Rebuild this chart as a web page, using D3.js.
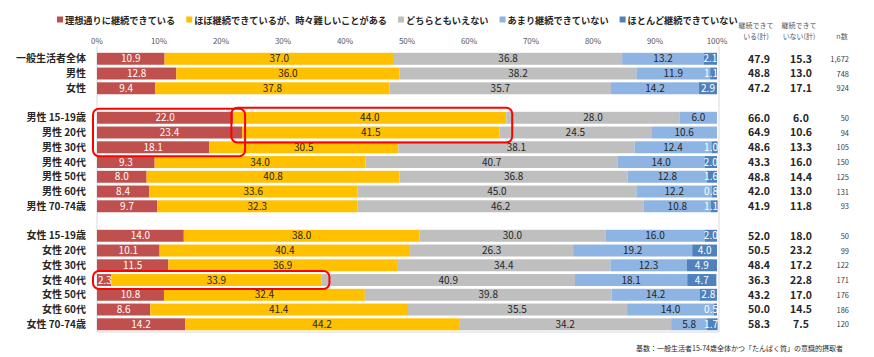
<!DOCTYPE html>
<html>
<head>
<meta charset="utf-8">
<script src="https://cdn.jsdelivr.net/npm/d3@7"></script>
<style>
  body { margin: 0; background: #fff; }
  text { font-family: "Noto Sans CJK JP", "Noto Sans", sans-serif; }
</style>
</head>
<body>
<div id="chart"></div>
<script>
// rows ("" = blank spacer row)
var categories = ["一般生活者全体", "男性", "女性", "",
    "男性 15-19歳", "男性 20代", "男性 30代", "男性 40代", "男性 50代", "男性 60代", "男性 70-74歳", "",
    "女性 15-19歳", "女性 20代", "女性 30代", "女性 40代", "女性 50代", "女性 60代", "女性 70-74歳"];

var seriesNames = ["理想通りに継続できている", "ほぼ継続できているが、時々難しいことがある",
    "どちらともいえない", "あまり継続できていない", "ほとんど継続できていない"];

var ideal    = [10.9, 12.8, 9.4, null, 22.0, 23.4, 18.1, 9.3, 8.0, 8.4, 9.7, null, 14.0, 10.1, 11.5, 2.3, 10.8, 8.6, 14.2];
var mostly   = [37.0, 36.0, 37.8, null, 44.0, 41.5, 30.5, 34.0, 40.8, 33.6, 32.3, null, 38.0, 40.4, 36.9, 33.9, 32.4, 41.4, 44.2];
var neutral  = [36.8, 38.2, 35.7, null, 28.0, 24.5, 38.1, 40.7, 36.8, 45.0, 46.2, null, 30.0, 26.3, 34.4, 40.9, 39.8, 35.5, 34.2];
var rarely   = [13.2, 11.9, 14.2, null, 6.0, 10.6, 12.4, 14.0, 12.8, 12.2, 10.8, null, 16.0, 19.2, 12.3, 18.1, 14.2, 14.0, 5.8];
var hardly   = [2.1, 1.1, 2.9, null, 0, 0, 1.0, 2.0, 1.6, 0.8, 1.1, null, 2.0, 4.0, 4.9, 4.7, 2.8, 0.5, 1.7];

var contTotal    = ["47.9", "48.8", "47.2", "", "66.0", "64.9", "48.6", "43.3", "48.8", "42.0", "41.9", "", "52.0", "50.5", "48.4", "36.3", "43.2", "50.0", "58.3"];
var notContTotal = ["15.3", "13.0", "17.1", "", "6.0", "10.6", "13.3", "16.0", "14.4", "13.0", "11.8", "", "18.0", "23.2", "17.2", "22.8", "17.0", "14.5", "7.5"];
var nCount       = ["1,672", "748", "924", "", "50", "94", "105", "150", "125", "131", "93", "", "50", "99", "122", "171", "176", "186", "120"];

var tickValues = [0, 10, 20, 30, 40, 50, 60, 70, 80, 90, 100];

var colors = ["#C0504D", "#FFC000", "#BFBFBF", "#8DB4E2", "#4F81BD"];
var labelColors = ["#ffffff", "#262626", "#262626", "#262626", "#ffffff"];

function go() {
    var width = 874, height = 357;
    var svg = d3.select("#chart").append("svg")
        .attr("width", width)
        .attr("height", height);

    var x = d3.scaleLinear().domain([0, 100]).range([97, 717]);
    var y = d3.scaleBand().domain(d3.range(categories.length))
        .range([51.4, 51.4 + 19 * 14.75]).paddingInner(0.19).paddingOuter(0.095);

    // legend
    var lx = 57;
    seriesNames.forEach(function (name, i) {
        svg.append("rect").attr("x", lx).attr("y", 16.5).attr("width", 6).attr("height", 6).attr("fill", colors[i]);
        var t = svg.append("text").attr("x", lx + 8).attr("y", 23.5)
            .attr("font-size", 9.2).attr("font-weight", "bold").attr("fill", "#262626")
            .text(name);
        lx += 8 + t.node().getComputedTextLength() + 11;
    });

    // top ticks
    svg.selectAll(".tick").data(tickValues).enter().append("text")
        .attr("x", function (d) { return x(d); })
        .attr("y", 44)
        .attr("text-anchor", "middle")
        .attr("font-size", 8)
        .attr("fill", "#595959")
        .text(function (d) { return d + "%"; });

    // frame
    var yTop = 46, yBot = 332;
    svg.append("line").attr("x1", x(0)).attr("x2", x(0)).attr("y1", yTop).attr("y2", yBot).attr("stroke", "#D9D9D9");
    svg.append("line").attr("x1", x(100) + 2).attr("x2", x(100) + 2).attr("y1", yTop).attr("y2", yBot).attr("stroke", "#D9D9D9");
    svg.append("line").attr("x1", x(0)).attr("x2", x(100) + 2).attr("y1", yBot).attr("y2", yBot).attr("stroke", "#D9D9D9");

    var rows = [];
    categories.forEach(function (c, i) {
        if (c === "") return;
        var vals = [ideal[i], mostly[i], neutral[i], rarely[i], hardly[i]];
        var acc = 0;
        vals.forEach(function (v, k) {
            rows.push({ row: i, k: k, v: v, x0: acc, x1: acc + v });
            acc += v;
        });
    });

    svg.selectAll(".seg").data(rows).enter().append("rect")
        .attr("x", function (d) { return x(d.x0); })
        .attr("y", function (d) { return y(d.row); })
        .attr("width", function (d) { return Math.max(0, x(d.x1) - x(d.x0)); })
        .attr("height", y.bandwidth())
        .attr("fill", function (d) { return colors[d.k]; });

    var lbl = svg.selectAll(".lbl").data(rows.filter(function (d) { return d.v > 0; })).enter().append("text")
        .attr("y", function (d) { return y(d.row) + y.bandwidth() / 2 + 3.6; })
        .attr("text-anchor", "middle")
        .attr("font-size", 10)
        .attr("fill", function (d) { return labelColors[d.k]; })
        .text(function (d) { return d.v.toFixed(1); });
    lbl.each(function (d) {
        var tw = this.getComputedTextLength();
        var cx = (x(d.x0) + x(d.x1)) / 2;
        if (cx + tw / 2 > x(100) + 1) cx = x(100) + 1 - tw / 2;
        if (cx - tw / 2 < x(0) + 1) cx = x(0) + 1 + tw / 2;
        d3.select(this).attr("x", cx);
    });

    // row labels
    svg.selectAll(".cat").data(categories).enter().append("text")
        .attr("x", 86)
        .attr("y", function (d, i) { return y(i) + y.bandwidth() / 2 + 3.6; })
        .attr("text-anchor", "end")
        .attr("font-size", 10)
        .attr("font-weight", "bold")
        .attr("fill", "#262626")
        .text(function (d) { return d; });

    // right columns
    var headers = [["継続できて", "いる(計)", 756], ["継続できて", "いない(計)", 799], ["n数", "", 842]];
    headers.forEach(function (h) {
        var t = svg.append("text").attr("x", h[2]).attr("y", h[1] ? 28 : 38.5)
            .attr("text-anchor", "middle").attr("font-size", 7).attr("fill", "#595959");
        t.text(h[0]);
        if (h[1]) {
            svg.append("text").attr("x", h[2]).attr("y", 38.5)
                .attr("text-anchor", "middle").attr("font-size", 7).attr("fill", "#595959").text(h[1]);
        }
    });

    svg.selectAll(".c1").data(contTotal).enter().append("text")
        .attr("x", 759)
        .attr("y", function (d, i) { return y(i) + y.bandwidth() / 2 + 3.8; })
        .attr("text-anchor", "middle").attr("font-size", 10.5).attr("font-weight", "bold").attr("fill", "#262626")
        .text(function (d) { return d; });
    svg.selectAll(".c2").data(notContTotal).enter().append("text")
        .attr("x", 801)
        .attr("y", function (d, i) { return y(i) + y.bandwidth() / 2 + 3.8; })
        .attr("text-anchor", "middle").attr("font-size", 10.5).attr("font-weight", "bold").attr("fill", "#262626")
        .text(function (d) { return d; });
    svg.selectAll(".c3").data(nCount).enter().append("text")
        .attr("x", 849)
        .attr("y", function (d, i) { return y(i) + y.bandwidth() / 2 + 3.2; })
        .attr("text-anchor", "end").attr("font-size", 7.5).attr("fill", "#404040")
        .text(function (d) { return d; });

    // highlight boxes
    var i15 = categories.indexOf("男性 15-19歳"), i20 = categories.indexOf("男性 20代"),
        i30 = categories.indexOf("男性 30代"), iF40 = categories.indexOf("女性 40代");
    var boxes = [
        { x0: x(0) - 4, x1: x(ideal[i20]) + 3, y0: y(i15) - 3, y1: y(i30) + y.bandwidth() + 3 },
        { x0: x(ideal[i15]) - 2, x1: x(ideal[i15] + mostly[i15]) + 6, y0: y(i15) - 4, y1: y(i20) + y.bandwidth() + 4 },
        { x0: x(0) - 4, x1: x(ideal[iF40] + mostly[iF40]) + 8, y0: y(iF40) - 3, y1: y(iF40) + y.bandwidth() + 3 }
    ];
    svg.selectAll(".box").data(boxes).enter().append("rect")
        .attr("x", function (d) { return d.x0; })
        .attr("y", function (d) { return d.y0; })
        .attr("width", function (d) { return d.x1 - d.x0; })
        .attr("height", function (d) { return d.y1 - d.y0; })
        .attr("rx", 6)
        .attr("fill", "none")
        .attr("stroke", "#FF0000")
        .attr("stroke-width", 2);

    // note
    svg.append("text").attr("x", 843).attr("y", 351)
        .attr("text-anchor", "end").attr("font-size", 7).attr("fill", "#262626")
        .text("基数：一般生活者15-74歳全体かつ「たんぱく質」の意識的摂取者");
}

document.addEventListener("DOMContentLoaded", function () { go(); });
</script>
</body>
</html>
